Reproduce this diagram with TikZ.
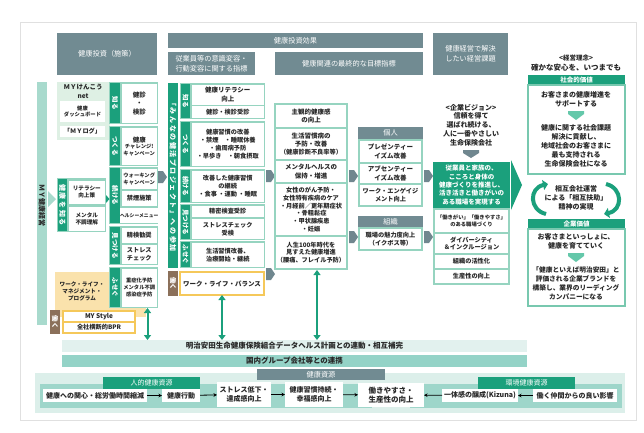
\documentclass[tikz,border=0pt]{standalone}
\usepackage{fontspec}
\setmainfont{Noto Sans CJK JP}
\usetikzlibrary{arrows.meta}
\definecolor{hgrey}{RGB}{113,139,146}
\definecolor{tgreen}{RGB}{27,160,124}
\definecolor{bgreen}{RGB}{120,200,175}
\definecolor{gframe}{RGB}{150,212,192}
\definecolor{lgreen}{RGB}{222,240,228}
\definecolor{barteal}{RGB}{168,218,205}
\definecolor{yel}{RGB}{245,200,90}
\definecolor{beige}{RGB}{250,226,172}
\definecolor{tbrown}{RGB}{139,112,90}
\definecolor{pale}{RGB}{226,241,238}
\definecolor{mteal}{RGB}{148,211,199}
\definecolor{bgpale}{RGB}{220,239,234}
\definecolor{bgmid}{RGB}{158,214,202}
\definecolor{arrgrey}{RGB}{112,135,143}
\definecolor{txt}{RGB}{40,40,40}
\definecolor{lgarrow}{RGB}{100,200,170}
\newcommand\rbox[7]{\node[#6, minimum width={(#4)-(#2)}, minimum height={(#5)-(#3)}] (#1) at ({((#2)+(#4))/2},{((#3)+(#5))/2}) {#7};}
\newcommand\vtab[7]{\rbox{#1}{#2}{#3}{#4}{#5}{#6}{}\node[vt] at (#1.center) {#7};}
\newcommand\garr[2]{\fill[arrgrey] ({#1},{#2-6}) -- ({#1+5},{#2-6}) -- ({#1+9},{#2}) -- ({#1+5},{#2+6}) -- ({#1},{#2+6}) -- cycle;}
\tikzset{
 base/.style={inner sep=0pt,outer sep=0pt,align=center,text=txt,font=\fontsize{6}{7.6}\selectfont\bfseries},
 f45/.style={font=\fontsize{4.8}{6}\selectfont\bfseries},
 f5/.style={font=\fontsize{5.3}{6.6}\selectfont\bfseries},
 f55/.style={font=\fontsize{5.6}{7.2}\selectfont\bfseries},
 f6/.style={font=\fontsize{6.2}{7.8}\selectfont\bfseries},
 f65/.style={font=\fontsize{6.5}{8.4}\selectfont\bfseries},
 f7/.style={font=\fontsize{7}{8.8}\selectfont\bfseries},
 f75/.style={font=\fontsize{7.5}{9.4}\selectfont\bfseries},
 hdr/.style={base,fill=hgrey,text=white,font=\fontsize{7.2}{10}\selectfont},
 wbox/.style={base,fill=white},
 gfr/.style={base,fill=gframe},
 tabg/.style={base,fill=tgreen},
 tabb/.style={base,fill=tbrown},
 vt/.style={inner sep=0pt,rotate=-90,text=white,font=\fontsize{6.5}{7}\selectfont\bfseries},
 vtl/.style={vt,font=\fontsize{7}{8}\selectfont\bfseries\addfontfeature{LetterSpace=22}},
 dbl/.style={tgreen,line width=2pt,{Triangle[length=5pt,width=7pt]}-{Triangle[length=5pt,width=7pt]}},
 flow/.style={black,line width=0.8pt,-{Stealth[length=3.5pt,width=3.5pt]}},
}
\begin{document}
\begin{tikzpicture}[x=1pt,y=-1pt]
\useasboundingbox (0,0) rectangle (644,432);
\fill[white] (0,0) rectangle (644,432);
\draw[black!12,line width=0.6pt] (20,22) rectangle (636,420);
% headers
\rbox{h1}{57}{33}{157}{75}{hdr}{健康投資（施策）}
\rbox{h2}{168}{33}{423}{48}{hdr}{健康投資効果}
\rbox{h3}{168}{52}{255}{75}{hdr}{従業員等の意識変容・\\行動変容に関する指標}
\rbox{h4}{275}{52}{423}{75}{hdr}{健康関連の最終的な目標指標}
\rbox{h5}{433}{33}{508}{75}{hdr}{健康経営で解決\\したい経営課題}
% ---------- column 1
\rbox{lbar}{37}{82}{47}{325}{base,fill=barteal}{}
\node[vt,text=txt,font=\fontsize{7}{8}\selectfont\bfseries] at ([yshift=-2pt]lbar.center) {ＭＹ健康経営};
\rbox{mynet}{57}{82}{110}{140}{base,fill=lgreen}{}
\node[base,f65,anchor=north] (mynett) at (83,84.5) {ＭＹけんこう\\net};
\rbox{dash}{60}{101}{105}{122}{wbox,f5}{健康\\ダッシュボード}
\rbox{mylog}{60}{126}{105}{137}{wbox,f6}{「ＭＹログ」}
% know
\rbox{g1}{109}{82}{158}{124}{gfr}{}
\vtab{t1}{110}{83}{120}{123}{tabg}{知る}
\rbox{b1}{121.5}{84}{157}{122.5}{wbox,f65}{健診\\・\\検診}
\rbox{g2}{109}{126}{158}{166}{gfr}{}
\vtab{t2}{110}{127}{120}{165}{tabg}{つくる}
\rbox{b2}{121.5}{128}{157}{164.5}{wbox,f5}{\fontsize{6.5}{8}\selectfont 健康\\チャレンジ!\\キャンペーン}
\rbox{g3}{109}{167}{158}{224}{gfr}{}
\vtab{t3}{110}{168}{120}{223}{tabg}{続ける}
\rbox{b3a}{121.5}{168.5}{157}{189}{wbox,f5}{ウォーキング\\キャンペーン}
\rbox{b3b}{121.5}{191}{157}{206}{wbox,f6}{禁煙施策}
\rbox{b3c}{121.5}{208}{157}{222.5}{wbox,f45}{ヘルシーメニュー}
\rbox{g4}{109}{226}{158}{265}{gfr}{}
\vtab{t4}{110}{227}{120}{264}{tabg}{見つける}
\rbox{b4a}{121.5}{227.5}{157}{243}{wbox,f6}{精検勧奨}
\rbox{b4b}{121.5}{245}{157}{263.5}{wbox,f6}{ストレス\\チェック}
% 健康を知る
\rbox{gk}{57}{178}{106}{232}{gfr}{}
\rbox{tk}{58}{179}{67}{231}{tabg}{}
\node[vtl] at (tk.center) {健康を知る};
\rbox{k1}{68.5}{180.5}{105}{204}{wbox,f55}{リテラシー\\向上策}
\rbox{k2}{68.5}{206.5}{105}{230.5}{wbox,f55}{メンタル\\不調理解}
\fill[barteal] (48,191) -- (56,199) -- (48,207) -- cycle;
\fill[tgreen] (106,195) -- (109.5,199) -- (106,203) -- cycle;
% work-life
\rbox{wlbg}{55}{272}{146}{317}{base,fill=beige}{}
\rbox{wlm}{57}{276}{107}{307}{base,fill=beige,f55}{ワーク・ライフ・\\マネジメント・\\プログラム}
\rbox{g5}{109}{267}{158}{308}{gfr}{}
\vtab{t5}{110}{268}{120}{307}{tabg}{ふせぐ}
\rbox{b5}{121.5}{268.5}{157}{306.5}{wbox,f5}{重症化予防\\メンタル不調\\感染症予防}
\vtab{tw1}{50}{310}{60}{334}{tabb}{働く}
\rbox{mysf}{62}{310}{136}{334}{base,fill=yel}{}
\rbox{mys1}{64}{312}{134}{321}{wbox,f65}{MY Style}
\rbox{mys2}{64}{323}{134}{332}{wbox,f6}{全社横断的BPR}
\garr{158}{177}
% ---------- column 2
\rbox{vt2}{168}{83}{178}{268}{tabg}{}
\node[vtl] at (vt2.center) {「みんなの健活プロジェクト」への参加};
\rbox{c2g1}{180}{83}{265}{119}{gfr}{}
\vtab{c2t1}{181}{84}{190}{118}{tabg}{知る}
\rbox{c2b1a}{191.5}{84.5}{264}{104.5}{wbox,f65}{健康リテラシー\\向上}
\rbox{c2b1b}{191.5}{106}{264}{118}{wbox,f6}{健診・検診受診}
\rbox{c2g2}{180}{121}{265}{167}{gfr}{}
\vtab{c2t2}{181}{122}{190}{166}{tabg}{つくる}
\rbox{c2b2}{191.5}{122.5}{264}{166}{wbox,f6}{健康習慣の改善\\・禁煙\quad・睡眠休養\\・歯周病予防\\・早歩き\quad・朝食摂取}
\rbox{c2g3}{180}{169}{265}{203}{gfr}{}
\vtab{c2t3}{181}{170}{190}{202}{tabg}{続ける}
\rbox{c2b3}{191.5}{170.5}{264}{202}{wbox,f6}{改善した健康習慣\\の継続\\・食事 ・運動 ・睡眠}
\rbox{c2g4}{180}{204}{265}{240}{gfr}{}
\vtab{c2t4}{181}{205}{190}{239}{tabg}{見つける}
\rbox{c2b4a}{191.5}{205.5}{264}{217}{wbox,f6}{精密検査受診}
\rbox{c2b4b}{191.5}{219}{264}{239}{wbox,f6}{ストレスチェック\\受検}
\rbox{c2g5}{180}{241}{265}{268}{gfr}{}
\vtab{c2t5}{181}{242}{190}{267}{tabg}{ふせぐ}
\rbox{c2b5}{191.5}{242.5}{264}{267}{wbox,f6}{生活習慣改善、\\治療開始・継続}
\vtab{c2tw}{168}{271}{178}{296}{tabb}{働く}
\rbox{wlb}{180}{272}{264}{295}{wbox,f65,draw=yel,line width=1.8pt}{ワーク・ライフ・バランス}
\garr{266}{176}
\garr{266}{274}
% ---------- column 3
\rbox{c3}{274}{103}{348}{270}{gfr}{}
\rbox{c3a}{276}{105}{346}{127}{wbox,f65}{主観的健康感\\の向上}
\rbox{c3b}{276}{129}{346}{159}{wbox,f65}{生活習慣病の\\予防・改善\\\fontsize{6.2}{7.8}\selectfont（健康診断不良率等）}
\rbox{c3c}{276}{161}{346}{182}{wbox,f65}{メンタルヘルスの\\保持・増進}
\rbox{c3d}{276}{184}{346}{235}{wbox,f6}{女性のがん予防・\\女性特有疾病のケア\\・月経前／更年期症状\\・骨粗鬆症\\・甲状腺疾患\\・妊娠}
\rbox{c3e}{276}{237}{346}{268}{wbox,f6}{人生100年時代を\\見すえた健康増進\\（腰痛、フレイル予防）}
\garr{349}{176}
\garr{349}{237}
% ---------- column 4
\rbox{c4h1}{358}{127}{423}{139}{hdr}{個人}
\rbox{c4f1}{358}{139}{423}{207}{gfr}{}
\rbox{c4a}{360}{141}{421}{162}{wbox,f65}{プレゼンティー\\イズム改善}
\rbox{c4b}{360}{164}{421}{183}{wbox,f65}{アブセンティー\\イズム改善}
\rbox{c4c}{360}{185}{421}{205}{wbox,f6}{ワーク・エンゲイジ\\メント向上}
\rbox{c4h2}{358}{216}{423}{227}{hdr}{組織}
\rbox{c4f2}{358}{227}{423}{251}{gfr}{}
\rbox{c4d}{360}{229}{421}{249}{wbox,f6}{職場の魅力度向上\\（イクボス等）}
\garr{424}{176}
\garr{424}{237}
% ---------- column 5
\node[base,f7] (vis) at (471,125) {<企業ビジョン>\\信頼を得て\\選ばれ続ける、\\人に一番やさしい\\生命保険会社};
\fill[arrgrey] (463,150) -- (479,150) -- (479,153) -- (471,158) -- (463,153) -- cycle;
\rbox{c5f}{433}{162}{510}{285}{gfr}{}
\rbox{c5g}{433}{162}{510}{208}{base,fill=tgreen,text=white,f65}{従業員と家族の、\\こころと身体の\\健康づくりを推進し、\\活き活きと働きがいの\\ある職場を実現する}
\rbox{c5a}{435}{210}{508}{232}{wbox,f5}{「働きがい」「働きやすさ」\\のある職場づくり}
\rbox{c5b}{435}{234}{508}{253}{wbox,f6}{ダイバーシティ\\＆インクルージョン}
\rbox{c5c}{435}{255}{508}{268}{wbox,f6}{組織の活性化}
\rbox{c5d}{435}{270}{508}{283}{wbox,f6}{生産性の向上}
\fill[tgreen] (511,160) -- (522,185) -- (511,210) -- cycle;
% ---------- column 6
\node[base,f65] (rinen) at (576,58.5) {<経営理念>};
\node[base,f75] (rinen2) at (576,68) {確かな安心を、いつまでも};
\rbox{c6h1}{528}{75}{625}{85}{base,fill=tgreen,text=white,f65}{社会的価値}
\rbox{c6b1}{528}{85}{625}{174}{wbox,draw=bgreen,line width=1.2pt}{}
\node[base,f7] (s1) at (576,99) {お客さまの健康増進を\\サポートする};
\fill[lgarrow] (568,111) -- (584,111) -- (584,114) -- (576,120) -- (568,114) -- cycle;
\node[base,f7,font=\fontsize{7}{9}\selectfont\bfseries] (s2) at (576,146) {健康に関する社会課題\\解決に貢献し、\\地域社会のお客さまに\\最も支持される\\生命保険会社になる};
\node[base,f7] (mutual) at (576,198) {相互会社運営\\による「相互扶助」\\精神の実現};
\draw[tgreen,line width=4pt,-{Triangle[length=5pt,width=10pt]}] (546,214) .. controls (529,210) and (529,188) .. (548,184);
\draw[tgreen,line width=4pt,-{Triangle[length=5pt,width=10pt]}] (606,184) .. controls (623,188) and (623,210) .. (604,214);
\rbox{c6h2}{528}{219}{625}{229}{base,fill=tgreen,text=white,f65}{企業価値}
\rbox{c6b2}{528}{229}{625}{306}{wbox,draw=bgreen,line width=1.2pt}{}
\node[base,f7] (k1t) at (576,241) {お客さまといっしょに、\\健康を育てていく};
\fill[lgarrow] (568,253) -- (584,253) -- (584,256) -- (576,262) -- (568,256) -- cycle;
\node[base,f65,font=\fontsize{6.7}{9}\selectfont\bfseries] (k2t) at (576,283) {「健康といえば明治安田」と\\評価される企業ブランドを\\構築し、業界のリーディング\\カンパニーになる};
% ---------- bottom bars
\rbox{bar1}{62}{340}{527}{352}{base,fill=pale,f75}{明治安田生命健康保険組合データヘルス計画との連動・相互補完}
\rbox{bar2}{62}{355}{527}{367}{base,fill=mteal,f75}{国内グループ会社等との連携}
\draw[dbl] ([xshift=14pt]g5.south) -- ([xshift=14pt]g5.south |- bar1.north);
\draw[dbl] (wlb.south) -- (wlb.south |- bar1.north);
\draw[dbl] ([xshift=6pt]c3.south) -- ([xshift=6pt]c3.south |- bar1.north);
% resources
\rbox{res}{35}{373}{625}{413}{base,fill=bgpale}{}
\rbox{resh}{257}{369}{385}{380}{hdr}{健康資源}
\rbox{hum}{40}{384}{372}{408}{base,fill=bgmid}{}
\rbox{env}{410}{384}{622}{408}{base,fill=bgmid}{}
\rbox{humh}{103}{377}{200}{389}{base,fill=tgreen,text=white,f7,font=\fontsize{7}{9}\selectfont}{人的健康資源}
\rbox{envh}{478}{377}{575}{389}{base,fill=tgreen,text=white,f7,font=\fontsize{7}{9}\selectfont}{環境健康資源}
\rbox{r1}{43}{389}{147}{402}{wbox,f7}{健康への関心・総労働時間縮減}
\rbox{r2}{162}{389}{200}{402}{wbox,f7}{健康行動}
\rbox{r3}{217}{382}{271}{407}{wbox,f7}{ストレス低下・\\達成感向上}
\rbox{r4}{285}{382}{343}{407}{wbox,f7}{健康習慣持続・\\幸福感向上}
\rbox{r5}{358}{383}{424}{407}{wbox,f75}{働きやすさ・\\生産性の向上}
\rbox{r6}{442}{389}{518}{402}{wbox,f7}{一体感の醸成(Kizuna)}
\rbox{r7}{533}{389}{617}{402}{wbox,f7}{働く仲間からの良い影響}
\draw[flow] (r1) -- (r2);
\draw[flow] (r2) -- (r3);
\draw[flow] (r3) -- (r4);
\draw[flow] (r4) -- (r5);
\draw[flow] (r6) -- (r5);
\draw[flow] (r7) -- (r6);
\end{tikzpicture}
\end{document}
